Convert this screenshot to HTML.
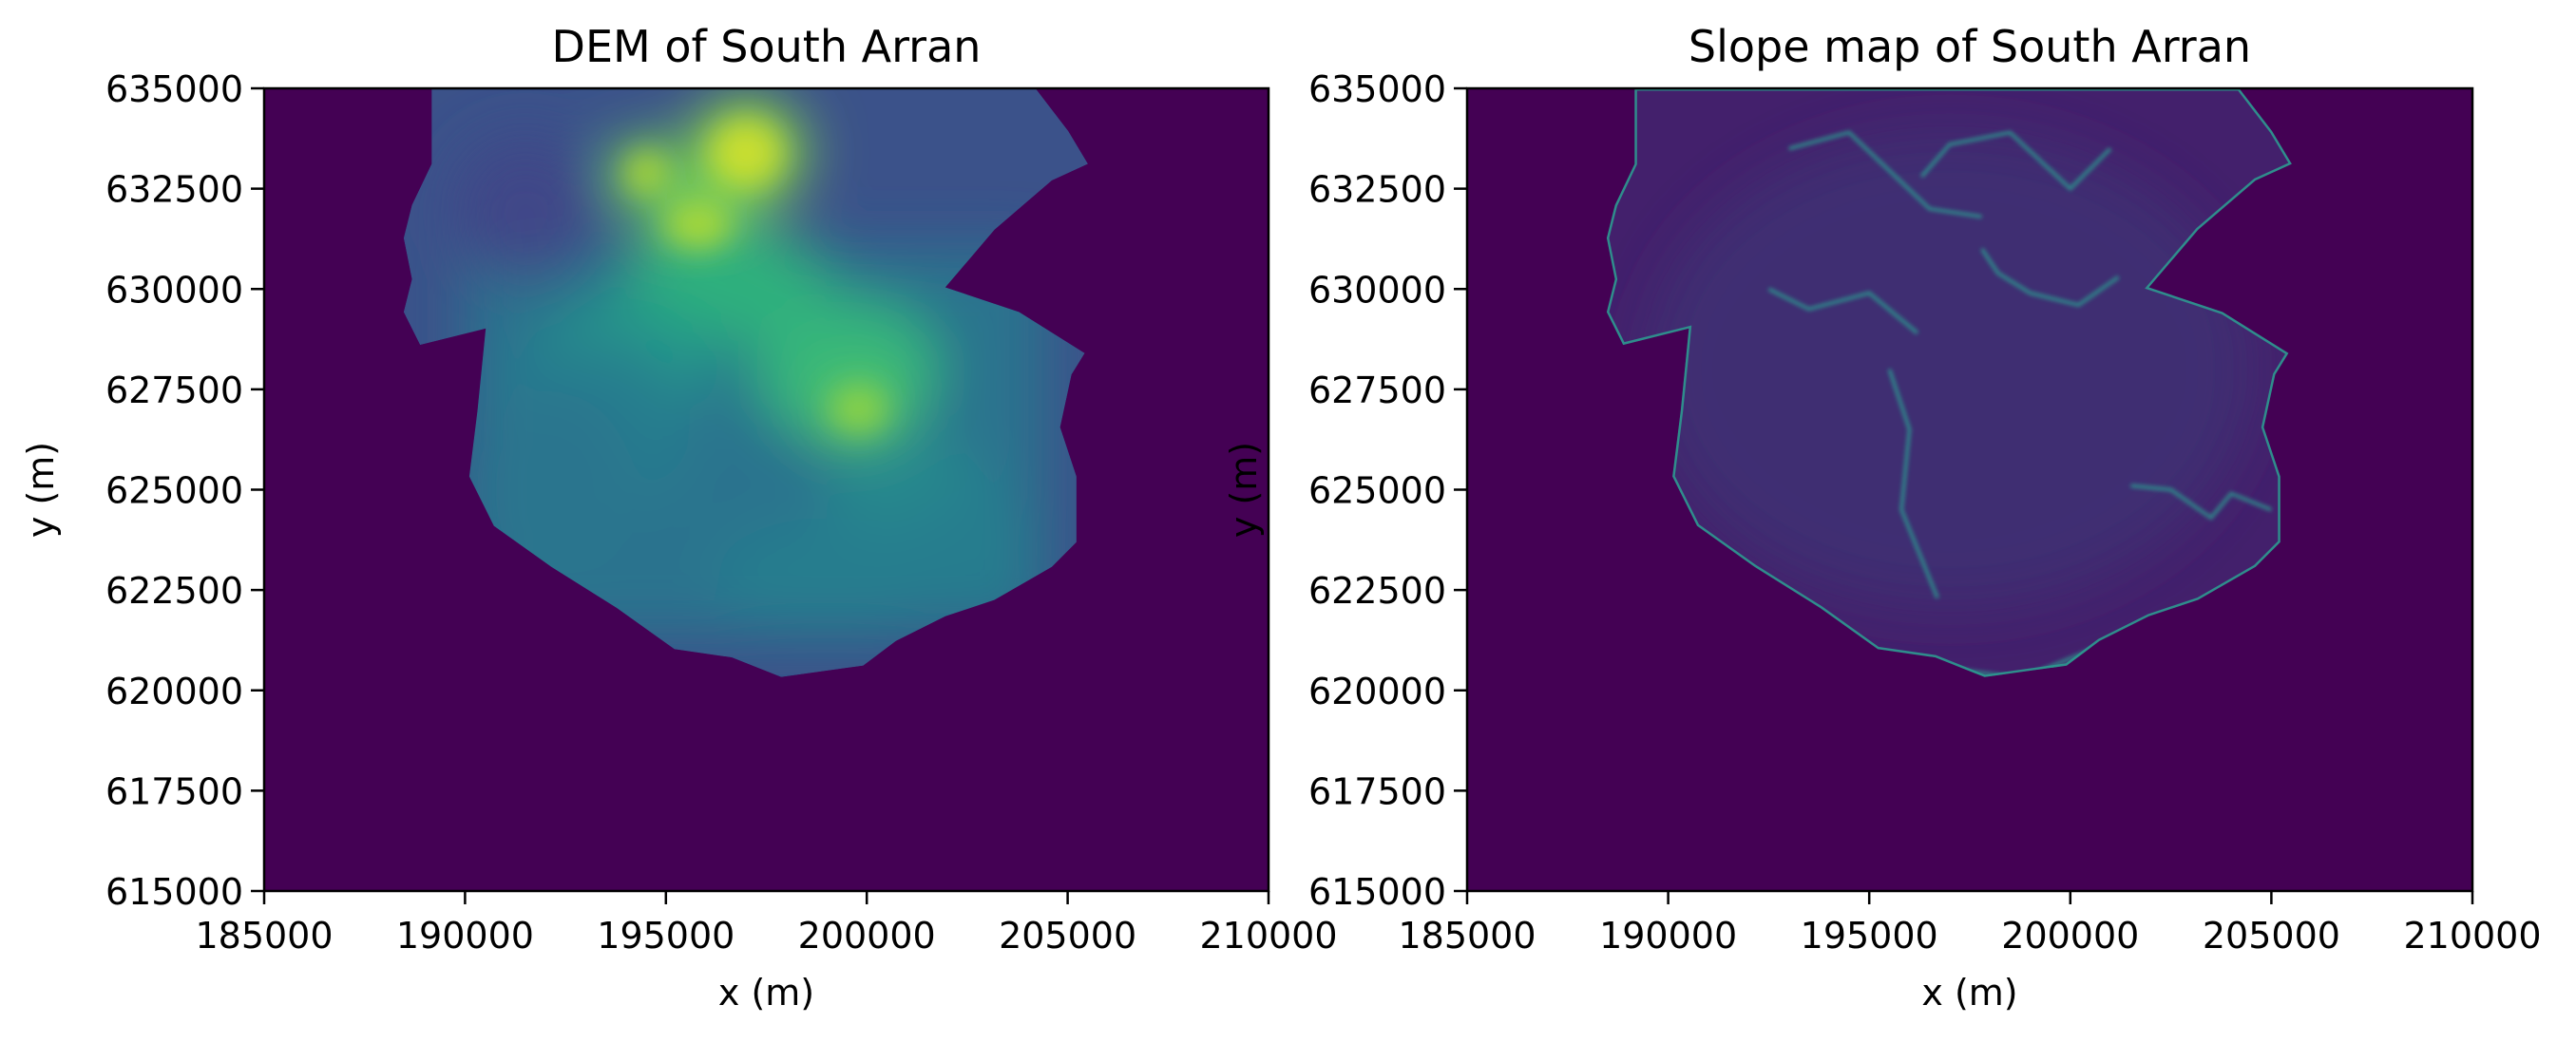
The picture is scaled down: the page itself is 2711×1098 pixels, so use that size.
<!DOCTYPE html>
<html><head><meta charset="utf-8">
<style>
html,body{margin:0;padding:0;background:#fff;}
svg{display:block;}
text{font-family:"DejaVu Sans","Liberation Sans",sans-serif;fill:#000;}
</style></head>
<body>
<svg id="fig" width="2711" height="1098" viewBox="0 0 2711 1098" xmlns="http://www.w3.org/2000/svg">
<defs>
<filter id="blurBig" x="-50%" y="-50%" width="200%" height="200%"><feGaussianBlur stdDeviation="30"/></filter>
<filter id="blurMid" x="-50%" y="-50%" width="200%" height="200%"><feGaussianBlur stdDeviation="16"/></filter>
<filter id="blurSm" x="-20%" y="-20%" width="140%" height="140%"><feGaussianBlur stdDeviation="2"/></filter>
</defs>
</svg>
<script>
const xTicks=[185000,190000,195000,200000,205000,210000];
const yTicks=[615000,617500,620000,622500,625000,627500,630000,632500,635000];
const outlineX=[189167,204200,205017,205507,204608,203178,201953,203791,205425,205098,204812,205221,205221,204608,203178,201953,200727,199910,197868,196642,195213,193783,192149,190719,190106,190311,190515,188881,188472,188677,188472,188677,189167];
const outlineY=[635000,635000,633935,633115,632705,631476,630041,629427,628402,627869,626558,625329,623690,623075,622255,621846,621231,620616,620329,620820,621025,622050,623075,624099,625329,626968,629017,628607,629427,630246,631271,632090,633115];
// DEM highlands: centre x, centre y, radius x (m), radius y (m), elevation level 0..1
const peakX=[191500,194500,195800,197000,196500,194000,199500,199800,193000,201000,199000,192000,202500];
const peakY=[632000,632900,631600,633400,630200,628200,628000,627000,626500,624800,622800,625000,623500];
const peakRX=[1800,900,1400,1500,2500,2200,2300,1200,2600,2000,2800,2200,1600];
const peakRY=[1800,900,1000,1400,1500,1600,1800,1000,2200,1600,1500,2500,1400];
const peakLevel=[0.25,0.9,0.9,0.95,0.75,0.62,0.78,0.85,0.5,0.55,0.5,0.45,0.5];
// slope ridges (data coords)
const ridgeX=[[188600,190500,192500,194500,196500,198800,200500,202500,204500,205300,205500],[196300,197000,198500,200000,201000],[192500,193500,195000,196200],[197800,198200,199000,200200,201200],[195500,196000,195800,196700],[201500,202500,203500,204000,205000],[193000,194500,196500,197800]];
const ridgeY=[[625000,623300,622000,620900,620600,620300,621000,621500,622100,623300,625200],[632800,633600,633900,632500,633500],[630000,629500,629900,628900],[631000,630400,629900,629600,630300],[628000,626500,624500,622300],[625100,625000,624300,624900,624500],[633500,633900,632000,631800]];

const NS='http://www.w3.org/2000/svg';
const svg=document.getElementById('fig');
function el(tag,attrs,parent){const e=document.createElementNS(NS,tag);for(const k in attrs)e.setAttribute(k,attrs[k]);(parent||svg).appendChild(e);return e;}
function viridis(t){const s=[[68,1,84],[72,40,120],[62,74,137],[49,104,142],[38,130,142],[31,158,137],[53,183,121],[109,205,89],[180,222,44],[253,231,37]];t=Math.max(0,Math.min(1,t))*9;const i=Math.min(8,Math.floor(t)),f=t-i;const c=s[i].map((v,k)=>Math.round(v+(s[i+1][k]-v)*f));return 'rgb('+c.join(',')+')';}

const panels=[{x0:278,x1:1335,title:'DEM of South Arran',kind:'dem'},{x0:1544,x1:2602,title:'Slope map of South Arran',kind:'slope'}];
const y0=93,y1=938;
panels.forEach((p,pi)=>{
  const sx=v=>p.x0+(v-185000)/25000*(p.x1-p.x0);
  const sy=v=>y1-(v-615000)/20000*(y1-y0);
  const g=el('g',{});
  
  
  const cid='clip'+pi;
  const cp=el('clipPath',{id:cid},svg.querySelector('defs'));
  el('rect',{x:p.x0,y:y0,width:p.x1-p.x0,height:y1-y0},cp);
  const bg=el('rect',{x:p.x0,y:y0,width:p.x1-p.x0,height:y1-y0,fill:'#440154'},g);
  
  
  const ocp=el('clipPath',{id:'oc'+pi},svg.querySelector('defs'));
  const pts=outlineX.map((x,i)=>sx(x).toFixed(1)+','+sy(outlineY[i]).toFixed(1)).join(' ');
  el('polygon',{points:pts},ocp);
  const land=el('g',{'clip-path':'url(#'+cid+')'},g);
  
  
  const inner=el('g',{'clip-path':'url(#oc'+pi+')'},land);
  if(p.kind==='dem'){
    el('polygon',{points:pts,fill:viridis(0.25)},inner);
    const bl=el('g',{filter:'url(#blurBig)'},inner);
    el('rect',{x:sx(190000),y:sy(631000),width:sx(204500)-sx(190000),height:sy(621300)-sy(631000),fill:viridis(0.38)},bl);
    peakX.forEach((x,i)=>{
      const e=el('ellipse',{cx:sx(x),cy:sy(peakY[i]),rx:peakRX[i]/25000*(p.x1-p.x0),ry:peakRY[i]/20000*(y1-y0),fill:viridis(peakLevel[i]*0.85)},bl);
      
      
    });
    const bl2=el('g',{filter:'url(#blurMid)','fill-opacity':0.8},inner);
    peakX.forEach((x,i)=>{ if(peakLevel[i]>0.8) el('ellipse',{cx:sx(x),cy:sy(peakY[i]),rx:peakRX[i]/25000*(p.x1-p.x0)*0.6,ry:peakRY[i]/20000*(y1-y0)*0.6,fill:viridis(peakLevel[i])},bl2);});
  } else {
    el('polygon',{points:pts,fill:'#43206c'},inner);
    const bl=el('g',{filter:'url(#blurBig)'},inner);
    el('ellipse',{cx:sx(197000),cy:sy(628000),rx:320,ry:250,fill:'#3e3577','fill-opacity':0.6},bl);
    el('polygon',{points:pts,fill:'none',stroke:'#2f8d8c','stroke-width':5},inner);
    const rg=el('g',{filter:'url(#blurSm)'},inner);
    ridgeX.forEach((xs,i)=>{
      const d=xs.map((x,j)=>(j?'L':'M')+sx(x).toFixed(1)+' '+sy(ridgeY[i][j]).toFixed(1)).join(' ');
      const r=el('path',{d:d,fill:'none',stroke:'#2a9a8e','stroke-width':4,'stroke-opacity':0.8},rg);
      
      
    });
  }
  const fr=el('rect',{x:p.x0,y:y0,width:p.x1-p.x0,height:y1-y0,fill:'none',stroke:'#000','stroke-width':2.5},g);
  
  
  xTicks.forEach(v=>{
    el('line',{x1:sx(v),x2:sx(v),y1:y1,y2:y1+14,stroke:'#000','stroke-width':2.5},g);
    const t=el('text',{x:sx(v),y:y1+60,'text-anchor':'middle','font-size':38},g);t.textContent=v;
    
    
  });
  yTicks.forEach(v=>{
    el('line',{x1:p.x0-14,x2:p.x0,y1:sy(v),y2:sy(v),stroke:'#000','stroke-width':2.5},g);
    const t=el('text',{x:p.x0-22,y:sy(v)+14,'text-anchor':'end','font-size':38},g);t.textContent=v;
    
    
  });
  const xl=el('text',{x:(p.x0+p.x1)/2,y:1058,'text-anchor':'middle','font-size':38},g);xl.textContent='x (m)';
  
  
  const yx=p.x0-222;
  const yl=el('text',{x:yx,y:(y0+y1)/2,'text-anchor':'middle','font-size':38,transform:'rotate(-90 '+yx+' '+(y0+y1)/2+')'},g);yl.textContent='y (m)';
  
  
  const tt=el('text',{x:(p.x0+p.x1)/2,y:65,'text-anchor':'middle','font-size':46},g);tt.textContent=p.title;
  
  
});
</script>
</body></html>
